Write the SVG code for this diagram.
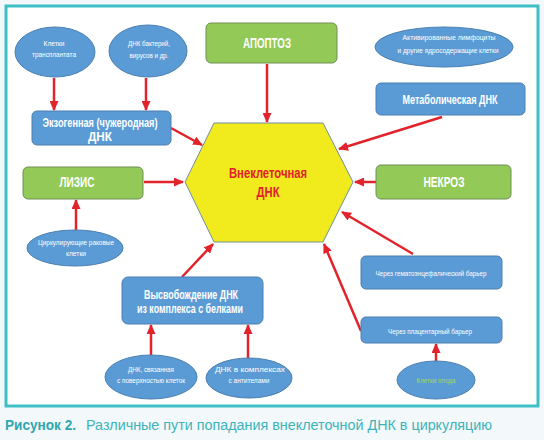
<svg xmlns="http://www.w3.org/2000/svg" width="544" height="440" viewBox="0 0 544 440">
<style>
.bl{fill:#5b9bd5;stroke:#4a7fb0;stroke-width:1}
.gr{fill:#92c957;stroke:#6f8f55;stroke-width:1}
.hx{fill:#f1ea1d;stroke:#6f8fa3;stroke-width:1}
text{font-family:"Liberation Sans",Arial,sans-serif;text-anchor:middle;fill:#fff}
.s{font-size:8px}
.b{font-weight:bold;font-size:12px}
.bb{font-weight:bold;font-size:14px}
.r{fill:#e2202b;font-weight:bold;font-size:14px}
.lg{fill:#a6d65e;font-size:8px}
.cap{font-size:14px;text-anchor:start;fill:#3cb3bb}
#conn line{stroke:#e3232b;stroke-width:2.5;marker-end:url(#ah)}
</style>
<defs>
<marker id="ah" markerUnits="userSpaceOnUse" markerWidth="10" markerHeight="9" refX="9" refY="4.5" orient="auto">
<path d="M0,0 L10,4.5 L0,9 z" fill="#e3232b"/>
</marker>
</defs>
<rect x="0" y="0" width="544" height="440" fill="#f3f9fa"/>
<rect x="6" y="6" width="532" height="400" fill="#fff" stroke="#3dbfc5" stroke-width="3"/>

<g id="conn">
<line x1="54" y1="78" x2="54" y2="110"/>
<line x1="146" y1="78" x2="146" y2="110"/>
<line x1="171" y1="128" x2="202" y2="145"/>
<line x1="267" y1="64" x2="267" y2="122"/>
<line x1="442" y1="117" x2="339" y2="149"/>
<line x1="144" y1="182" x2="183" y2="182"/>
<line x1="76" y1="230" x2="76" y2="200"/>
<line x1="376" y1="182" x2="355" y2="182"/>
<line x1="413" y1="254" x2="342" y2="212"/>
<line x1="361" y1="331" x2="324" y2="244"/>
<line x1="436" y1="361" x2="436" y2="344"/>
<line x1="182" y1="277" x2="213" y2="244"/>
<line x1="151" y1="355" x2="151" y2="325"/>
<line x1="248" y1="358" x2="248" y2="325"/>
</g>

<g id="hex">
<polygon class="hx" points="214,123 323,123 353,182 323,242 214,242 185,182"/>
<text class="r" x="268" y="178" textLength="78" lengthAdjust="spacingAndGlyphs">Внеклеточная</text>
<text class="r" x="268" y="197" textLength="23" lengthAdjust="spacingAndGlyphs">ДНК</text>
</g>

<g id="transplant">
<ellipse class="bl" cx="55" cy="52" rx="40" ry="25"/>
<text class="s" x="54" y="46" textLength="21" lengthAdjust="spacingAndGlyphs">Клетки</text>
<text class="s" x="54" y="57" textLength="44" lengthAdjust="spacingAndGlyphs">трансплантата</text>
</g>

<g id="bacteria">
<ellipse class="bl" cx="148" cy="51" rx="39" ry="26"/>
<text class="s" x="149" y="46" textLength="42" lengthAdjust="spacingAndGlyphs">ДНК бактерий,</text>
<text class="s" x="149" y="58" textLength="39" lengthAdjust="spacingAndGlyphs">вирусов и др.</text>
</g>

<g id="exo">
<rect class="bl" x="32" y="111" width="139" height="34" rx="5"/>
<text class="b" x="100" y="127" textLength="115" lengthAdjust="spacingAndGlyphs">Экзогенная (чужеродная)</text>
<text class="b" x="100" y="141" textLength="24" lengthAdjust="spacingAndGlyphs">ДНК</text>
</g>

<g id="apoptosis">
<rect class="gr" x="206" y="23" width="131" height="40" rx="5"/>
<text class="bb" x="267" y="48" textLength="48" lengthAdjust="spacingAndGlyphs">АПОПТОЗ</text>
</g>

<g id="lymph">
<ellipse class="bl" cx="444" cy="47" rx="69" ry="20"/>
<text class="s" x="449" y="40" textLength="93" lengthAdjust="spacingAndGlyphs">Активированные лимфоциты</text>
<text class="s" x="448" y="53" textLength="101" lengthAdjust="spacingAndGlyphs">и другие ядросодержащие клетки</text>
</g>

<g id="metab">
<rect class="bl" x="376" y="83" width="149" height="32" rx="5"/>
<text class="b" x="450" y="104" textLength="95" lengthAdjust="spacingAndGlyphs">Метаболическая ДНК</text>
</g>

<g id="lysis">
<rect class="gr" x="23" y="167" width="120" height="32" rx="5"/>
<text class="bb" x="77" y="187" textLength="35" lengthAdjust="spacingAndGlyphs">ЛИЗИС</text>
</g>

<g id="cancer">
<ellipse class="bl" cx="75" cy="248" rx="48" ry="18"/>
<text class="s" x="76" y="245" textLength="76" lengthAdjust="spacingAndGlyphs">Циркулирующие раковые</text>
<text class="s" x="76" y="256" textLength="20" lengthAdjust="spacingAndGlyphs">клетки</text>
</g>

<g id="necrosis">
<rect class="gr" x="376" y="165" width="135" height="34" rx="5"/>
<text class="bb" x="444" y="187" textLength="41" lengthAdjust="spacingAndGlyphs">НЕКРОЗ</text>
</g>

<g id="bbb">
<rect class="bl" x="361" y="256" width="141" height="33" rx="5"/>
<text class="s" x="431" y="276" textLength="111" lengthAdjust="spacingAndGlyphs">Через гематоэнцефалический барьер</text>
</g>

<g id="placenta">
<rect class="bl" x="361" y="317" width="141" height="26" rx="5"/>
<text class="s" x="430" y="334" textLength="84" lengthAdjust="spacingAndGlyphs">Через плацентарный барьер</text>
</g>

<g id="fetal">
<ellipse class="bl" cx="436" cy="380" rx="39" ry="19"/>
<text class="lg" x="436" y="383" textLength="39" lengthAdjust="spacingAndGlyphs">Клетки плода</text>
</g>

<g id="release">
<rect class="bl" x="122" y="277" width="141" height="47" rx="6"/>
<text class="b" x="191" y="299" textLength="94" lengthAdjust="spacingAndGlyphs">Высвобождение ДНК</text>
<text class="b" x="190" y="313" textLength="106" lengthAdjust="spacingAndGlyphs">из комплекса с белками</text>
</g>

<g id="surface">
<ellipse class="bl" cx="151" cy="377" rx="46" ry="22"/>
<text class="s" x="151" y="372" textLength="46" lengthAdjust="spacingAndGlyphs">ДНК, связанная</text>
<text class="s" x="151" y="383" textLength="68" lengthAdjust="spacingAndGlyphs">с поверхностью клеток</text>
</g>

<g id="antibody">
<ellipse class="bl" cx="249" cy="378" rx="43" ry="20"/>
<text class="s" x="250" y="372" textLength="70" lengthAdjust="spacingAndGlyphs">ДНК в комплексах</text>
<text class="s" x="249" y="383" textLength="41" lengthAdjust="spacingAndGlyphs">с антителами</text>
</g>

<text class="cap" y="430"><tspan x="5" font-weight="bold" fill="#2fa7b0" textLength="71" lengthAdjust="spacingAndGlyphs">Рисунок 2.</tspan><tspan x="86" textLength="406" lengthAdjust="spacingAndGlyphs">Различные пути попадания внеклеточной ДНК в циркуляцию</tspan></text>
</svg>
